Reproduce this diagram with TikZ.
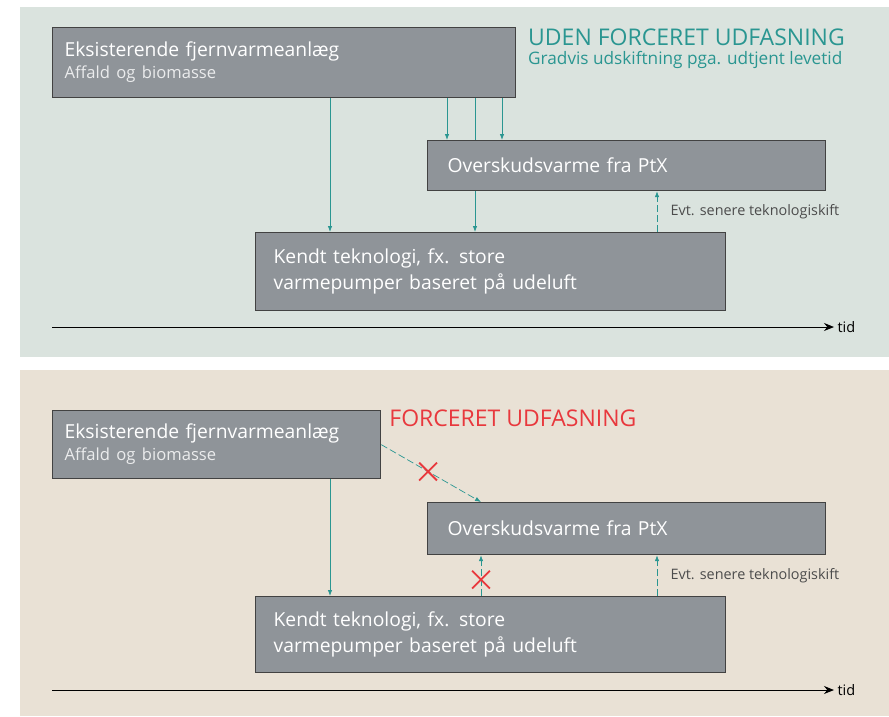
\documentclass[tikz,border=0pt]{standalone}
\usepackage{fontspec}
\setmainfont{Open Sans}
\usetikzlibrary{positioning, calc}
\usetikzlibrary{shapes.misc, arrows.meta}
\definecolor{greenbg}{RGB}{218,227,222}
\definecolor{sandbg}{RGB}{233,225,213}
\definecolor{boxgray}{RGB}{143,148,153}
\definecolor{boxline}{RGB}{66,66,66}
\definecolor{flowteal}{RGB}{42,150,145}
\definecolor{stopred}{RGB}{232,56,61}
\tikzstyle{block} = [rectangle, draw=boxline, fill=boxgray, line width=1.2pt,
    text=white, anchor=north west, align=left, font=\fontsize{19.3}{26}\selectfont]
\tikzstyle{line} = [draw=flowteal, line width=0.8pt, -{Latex[length=6pt,width=4.5pt]}]
\tikzstyle{dashline} = [line, line width=0.7pt, dash pattern=on 7pt off 3pt]
\tikzstyle{stop} = [cross out, draw=stopred, solid, line width=1.8pt, minimum size=16pt, inner sep=0pt]
\tikzstyle{axis} = [draw, line width=1pt, -{Stealth[length=10pt,width=8pt]}]
\tikzstyle{note} = [text=black!70, font=\fontsize{14.4}{16}\selectfont]
\newcommand{\boxsub}[1]{{\fontsize{16.6}{18}\selectfont\color{white!82!boxgray}#1}}

\begin{document}
\begin{tikzpicture}[x=1pt, y=-1pt]
  \useasboundingbox (0,0) rectangle (889,716);
  % Backgrounds
  \fill[greenbg] (20,7) rectangle (889,357);
  \fill[sandbg] (20,370) rectangle (889,716);

  % Place nodes (uden forceret udfasning)
    \node [block, inner xsep=12pt, text width=439pt, minimum height=70pt] (eks1) at (52,27)
      {Eksisterende fjernvarmeanlæg\\[-4pt]\boxsub{Affald og biomasse}};
    \node [block, inner xsep=20pt, text width=358pt, minimum height=50pt] (ptx1) at (427,140) {Overskudsvarme fra PtX};
    \node [block, inner xsep=18pt, text width=434pt, minimum height=78pt] (kendt1) at (255,232)
      {Kendt teknologi, fx. store\\varmepumper baseret på udeluft};
    \node [anchor=west, inner sep=0pt, text=flowteal, font=\fontsize{23}{26}\selectfont] (title1) at (528,37) {UDEN FORCERET UDFASNING};
    \node [below=5pt of title1.south west, anchor=north west, inner sep=0pt, text=flowteal,
      font=\fontsize{17.2}{20}\selectfont] (sub1) {Gradvis udskiftning pga. udtjent levetid};
    \coordinate (tstart1) at (52,327);
    \node [anchor=west, font=\fontsize{14.5}{16}\selectfont] (tid1) at (834,327) {tid};
  % Draw edges
    \path [line] ([xshift=278pt]eks1.south west) -- ([xshift=278pt]eks1.south west |- kendt1.north);
    \path [line] ([xshift=395pt]eks1.south west) -- ([xshift=395pt]eks1.south west |- ptx1.north);
    \draw [flowteal, line width=0.8pt] ([xshift=423pt]eks1.south west) -- ([xshift=423pt]eks1.south west |- ptx1.north);
    \path [line] ([xshift=48pt]ptx1.south west) -- ([xshift=48pt]ptx1.south west |- kendt1.north);
    \path [line] ([xshift=450pt]eks1.south west) -- ([xshift=450pt]eks1.south west |- ptx1.north);
    \path [dashline] ([xshift=402pt]kendt1.north west) -- ([xshift=402pt]kendt1.north west |- ptx1.south)
      node [midway, right=10pt, note] {Evt. senere teknologiskift};
    \path [axis] (tstart1) -- (tid1.west);

  % Place nodes (forceret udfasning)
    \node [block, inner xsep=12pt, text width=304pt, minimum height=68pt] (eks2) at (52,410)
      {Eksisterende fjernvarmeanlæg\\[-4pt]\boxsub{Affald og biomasse}};
    \node [block, inner xsep=20pt, text width=358pt, minimum height=52pt] (ptx2) at (427,502) {Overskudsvarme fra PtX};
    \node [block, inner xsep=18pt, text width=434pt, minimum height=76pt] (kendt2) at (255,596)
      {Kendt teknologi, fx. store\\varmepumper baseret på udeluft};
    \node [right=8pt of eks2.north east, anchor=north west, inner sep=0pt, text=stopred,
      font=\fontsize{23}{26}\selectfont] (title2) {FORCERET UDFASNING};
    \coordinate (tstart2) at (52,690);
    \node [anchor=west, font=\fontsize{14.5}{16}\selectfont] (tid2) at (834,690) {tid};
  % Draw edges
    \path [line] ([xshift=278pt]eks2.south west) -- ([xshift=278pt]eks2.south west |- kendt2.north);
    \path [dashline] (eks2.east) -- ([xshift=54pt]ptx2.north west)
      node [pos=0.47, stop] (stopa) {};
    \path [dashline] ([xshift=226pt]kendt2.north west) -- ([xshift=226pt]kendt2.north west |- ptx2.south)
      node [pos=0.4, stop] (stopb) {};
    \path [dashline] ([xshift=402pt]kendt2.north west) -- ([xshift=402pt]kendt2.north west |- ptx2.south)
      node [midway, right=10pt, note] {Evt. senere teknologiskift};
    \path [axis] (tstart2) -- (tid2.west);
\end{tikzpicture}
\end{document}
